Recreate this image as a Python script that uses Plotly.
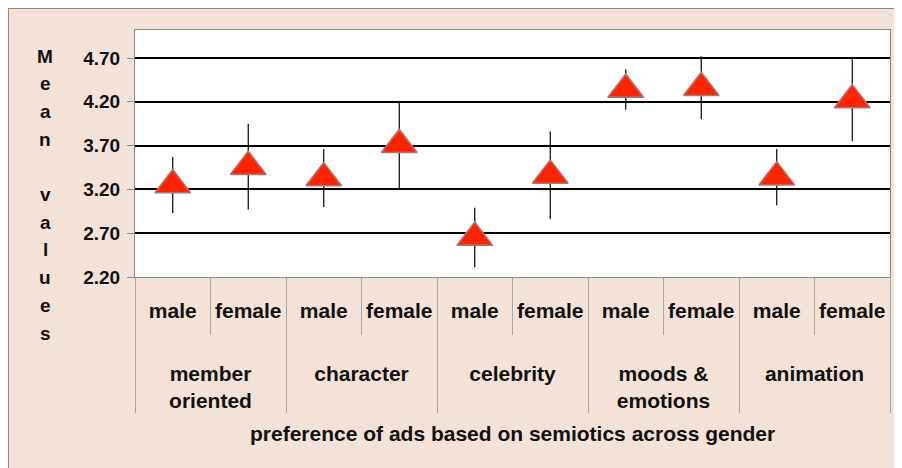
import plotly.graph_objects as go

# semiotic ad types and gender groups
categories = ["member<br>oriented", "character", "celebrity", "moods &<br>emotions", "animation"]
genders = ["male", "female"]

# mean preference and error (+/-) per category/gender
means = [3.25, 3.46, 3.33, 3.71, 2.65, 3.36, 4.34, 4.36, 3.34, 4.22]
errors = [0.32, 0.49, 0.33, 0.50, 0.34, 0.50, 0.23, 0.36, 0.32, 0.47]

y_ticks = [2.20, 2.70, 3.20, 3.70, 4.20, 4.70]
y_title = "Mean values"

# blank spacer lines under the gender labels push the category row down
spacer = "<br> <br><span style='font-size:10px'> </span>"
outer = [c for c in categories for g in genders]
inner = [g + spacer for c in categories for g in genders]

font = "Liberation Sans, Arial, sans-serif"
bg = "#F2E2D7"

fig = go.Figure(go.Scatter(
    x=[outer, inner],
    y=means,
    mode="markers",
    marker=dict(symbol="triangle-up", size=31, color="#FF2400",
                line=dict(color="#A87878", width=1.5)),
    error_y=dict(type="data", array=errors, visible=True,
                 color="black", thickness=1.2, width=0),
    showlegend=False,
))

# page body has an 8px margin, so the figure sits at (8, 8)
fig.update_layout(
    width=894, height=460,
    margin=dict(l=127, r=12, t=22, b=191, autoexpand=False),
    paper_bgcolor=bg,
    plot_bgcolor="white",
    font=dict(family=font, size=20, color="#111111"),
)

fig.update_xaxes(
    type="multicategory",
    range=[-0.5, len(means) - 0.5],
    automargin=False,
    tickangle=0,
    tickson="boundaries",
    ticklabelstandoff=15,
    ticks="outside", ticklen=57, tickcolor="#A6A6A6", tickwidth=1,
    showdividers=True, dividercolor="#A6A6A6", dividerwidth=1,
    showgrid=False,
    showline=True, linecolor="#8C8C8C", linewidth=1, mirror=True,
    tickfont=dict(family=font, size=21, color="#111111", weight="bold"),
)

fig.update_yaxes(
    automargin=False,
    range=[2.2, 5.02],
    tickvals=y_ticks,
    tickformat=".2f",
    ticks="outside", ticklen=7, tickcolor="#8C8C8C",
    ticklabelstandoff=3,
    showgrid=True, gridcolor="black", gridwidth=2,
    zeroline=False,
    showline=True, linecolor="#8C8C8C", linewidth=1, mirror=True,
    tickfont=dict(family=font, size=19, color="#111111", weight="bold"),
)

# helpers: page pixel -> paper coords
def px(x):
    return (x - 135) / 755

def py(y):
    return (277 - y) / 247

# vertical, letter-stacked y axis title
for i, ch in enumerate(y_title):
    if ch == " ":
        continue
    fig.add_annotation(
        text=ch, xref="paper", yref="paper",
        x=px(45), y=py(56 + i * 27.7),
        xanchor="center", yanchor="middle", showarrow=False,
        font=dict(family=font, size=19, color="#111111", weight="bold"),
    )

fig.add_annotation(
    text="preference of ads based on semiotics across gender",
    xref="paper", yref="paper", x=px(512), y=py(433),
    xanchor="center", yanchor="middle", showarrow=False,
    font=dict(family=font, size=21, color="#111111", weight="bold"),
)

# outer frame (top and left edges of the paper)
fig.add_shape(type="line", xref="paper", yref="paper",
              x0=px(8), x1=px(902), y0=py(8), y1=py(8),
              line=dict(color="#8C8C8C", width=2))
fig.add_shape(type="line", xref="paper", yref="paper",
              x0=px(8), x1=px(8), y0=py(8), y1=py(468),
              line=dict(color="#8C8C8C", width=2))

fig.write_html("out.html")
